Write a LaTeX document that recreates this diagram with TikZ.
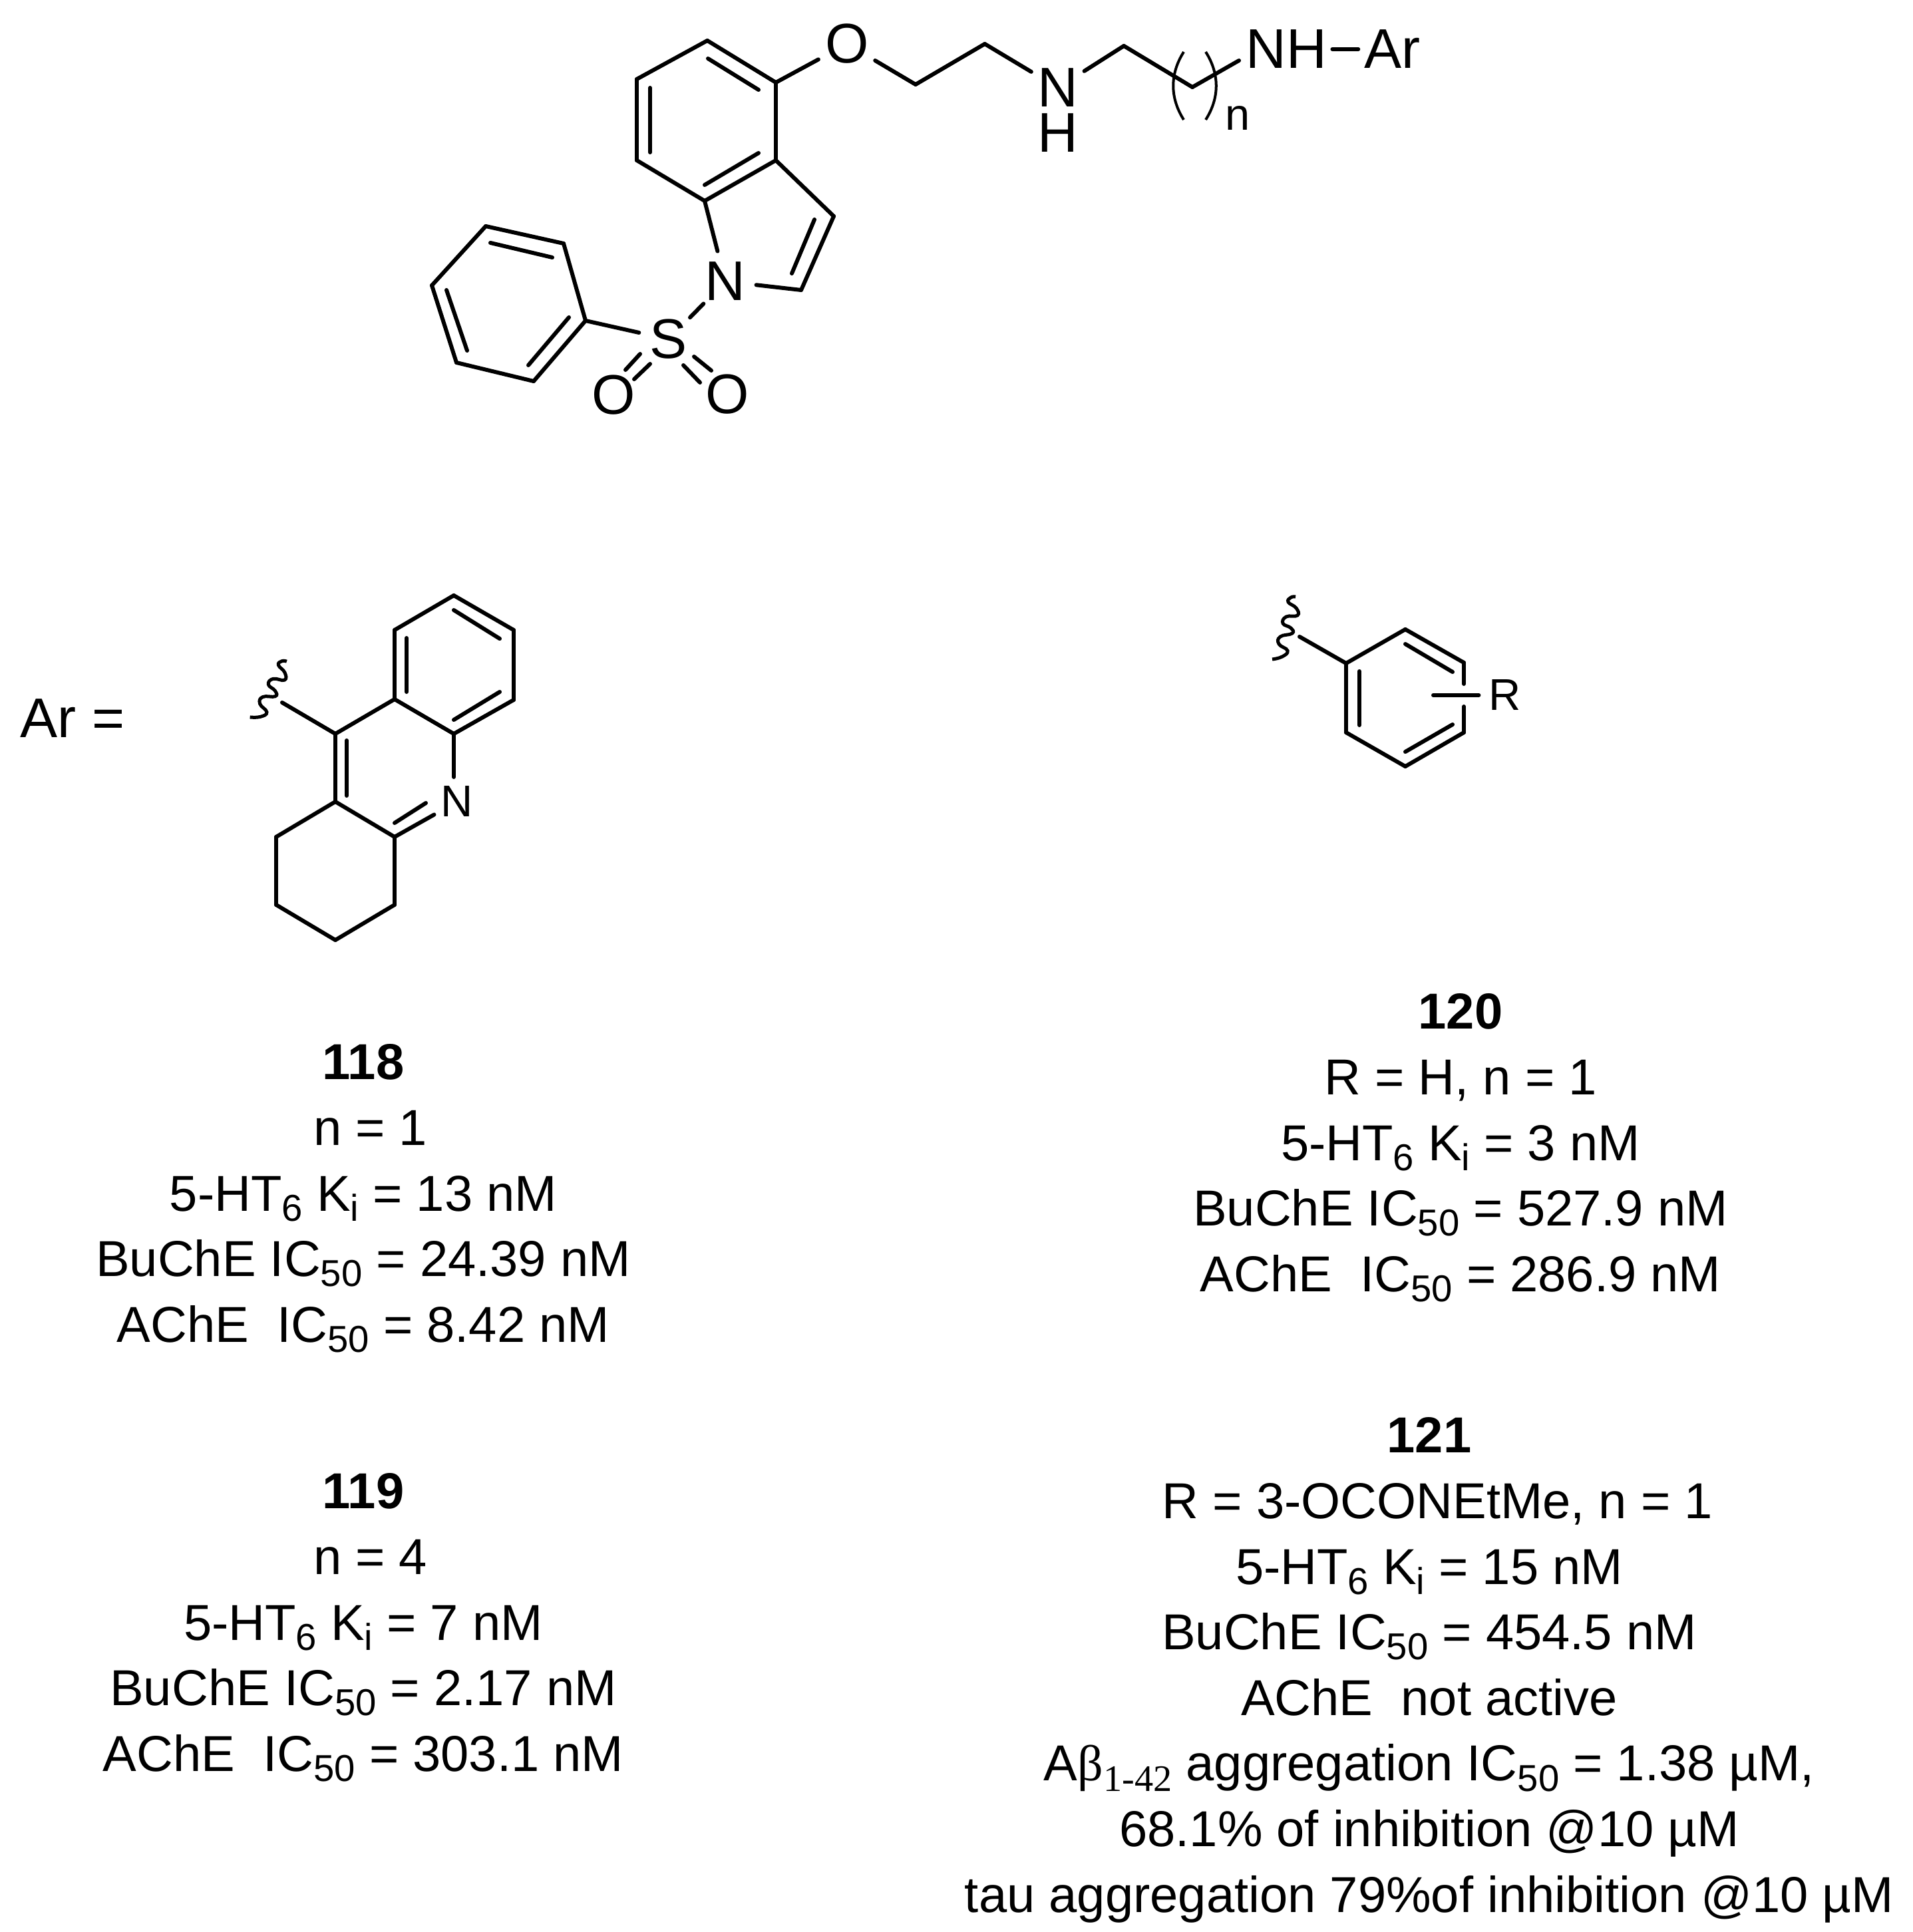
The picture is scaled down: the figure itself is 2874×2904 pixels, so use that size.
\documentclass[tikz,border=0pt]{standalone}
\usepackage{fontspec}
\setmainfont{Liberation Sans}
\newfontfamily\timesfont{Liberation Serif}
\newcommand{\lowidx}[1]{\raisebox{-0.2em}{\fontsize{16}{16}\selectfont #1}}
\tikzset{
  bond/.style={line width=0.06cm,line cap=round},
  atom/.style={circle,inner sep=0.03cm,font=\fontsize{23.9}{28}\selectfont},
  smallatom/.style={circle,inner sep=0.04cm,font=\fontsize{19}{23}\selectfont},
  wordatom/.style={rectangle,inner sep=0.08cm,font=\fontsize{23.9}{28}\selectfont},
  datablock/.style={anchor=north,inner sep=0pt,align=center,font=\fontsize{21.6}{28.05}\selectfont},
  pics/wavybond/.style={code={
    \draw[line width=0.05cm] plot[smooth,tension=0.8] coordinates {
      (-17,48) (-2,44) (6,35) (-7,25) (-5,14) (13,9) (11,1) (-1,-6) (4,-16) (21,-18) (19,-29) (7,-38) (11,-45) (18,-46)};
  }}
}
\begin{document}
\begin{tikzpicture}[x=0.01cm,y=-0.01cm]
      \useasboundingbox (0,0) rectangle (2874,2904);
      % indole and side chain
      \draw
        (1063,61) coordinate (i1)
        (1166,124) coordinate (i2)
        (1166,241) coordinate (i3)
        (1059,302) coordinate (i4)
        (957,241) coordinate (i5)
        (957,119) coordinate (i6)
        (1253,325) coordinate (i7)
        (1204,436) coordinate (i8)
        (1376,127) coordinate (c1)
        (1480,66) coordinate (c2)
        (1689,69) coordinate (c3)
        (1792,131) coordinate (c4)
        (1862,91) coordinate (c5)
        (1090,423) node[atom] (indn){N}
        (1273,66) node[atom] (oxy){O}
        (1590,132) node[atom] (amine){N}
        (1590,200) node[wordatom,inner sep=0pt] (amineh){H}
        (1933,74) node[wordatom] (nh){NH}
        (2092,74) node[wordatom] (ar){Ar}
        (1860,178) node[smallatom] (rep){n};
      % phenylsulfonyl
      \draw
        (880,482) coordinate (p1)
        (847,366) coordinate (p2)
        (730,340) coordinate (p3)
        (649,429) coordinate (p4)
        (686,545) coordinate (p5)
        (802,573) coordinate (p6)
        (1005,510) node[atom] (sulf){S}
        (922,594) node[atom] (oxl){O}
        (1093,593) node[atom] (oxr){O};
      % acridine part
      \draw
        (682,895) coordinate (a1)
        (772,947) coordinate (a2)
        (772,1052) coordinate (a3)
        (682,1103) coordinate (a4)
        (593,1051) coordinate (a5)
        (593,947) coordinate (a6)
        (504,1103) coordinate (a7)
        (504,1205) coordinate (a8)
        (593,1258) coordinate (a9)
        (415,1258) coordinate (a10)
        (415,1360) coordinate (a11)
        (504,1413) coordinate (a12)
        (593,1360) coordinate (a13)
        (424,1056) coordinate (a14)
        (682,1168) coordinate (a15)
        (687,1205) node[smallatom] (acrn){N};
      % substituted phenyl
      \draw
        (2112,946) coordinate (b1)
        (2200,996) coordinate (b2)
        (2200,1101) coordinate (b3)
        (2112,1152) coordinate (b4)
        (2023,1101) coordinate (b5)
        (2023,997) coordinate (b6)
        (1953,957) coordinate (b7)
        (2200,1028) coordinate (b8)
        (2200,1062) coordinate (b9)
        (2154,1045) coordinate (b10)
        (2262,1045) node[smallatom] (rgroup){R};
      \begin{scope}[bond]
        \draw (i1) to (i2);
        \draw (i2) to (i3);
        \draw (i3) to (i4);
        \draw (i4) to (i5);
        \draw (i5) to (i6);
        \draw (i6) to (i1);
        \draw (i3) to (i7);
        \draw (i7) to (i8);
        \draw (i8) to (indn);
        \draw (i4) to (indn);
        \draw (i2) to (oxy);
        \draw (oxy) to (c1);
        \draw (c1) to (c2);
        \draw (c2) to (amine);
        \draw (amine) to (c3);
        \draw (c3) to (c4);
        \draw (c4) to (c5);
        \draw (nh) to (ar);
        \draw (indn) to (sulf);
        \draw (sulf) to (p1);
        \draw (p1) to (p2);
        \draw (p2) to (p3);
        \draw (p3) to (p4);
        \draw (p4) to (p5);
        \draw (p5) to (p6);
        \draw (p6) to (p1);
        \draw (a1) to (a2);
        \draw (a2) to (a3);
        \draw (a3) to (a4);
        \draw (a4) to (a5);
        \draw (a5) to (a6);
        \draw (a6) to (a1);
        \draw (a5) to (a7);
        \draw (a7) to (a8);
        \draw (a8) to (a9);
        \draw (a9) to (acrn);
        \draw (a4) to (a15);
        \draw (a8) to (a10);
        \draw (a10) to (a11);
        \draw (a11) to (a12);
        \draw (a12) to (a13);
        \draw (a13) to (a9);
        \draw (a7) to (a14);
        \draw (b1) to (b2);
        \draw (b2) to (b8);
        \draw (b9) to (b3);
        \draw (b3) to (b4);
        \draw (b4) to (b5);
        \draw (b5) to (b6);
        \draw (b6) to (b1);
        \draw (b6) to (b7);
        \draw (b10) to (rgroup);
        % second lines of the double bonds
        \draw (1064,88) to (1140,135);
        \draw (977,132) to (977,229);
        \draw (1140,230) to (1059,278);
        \draw (1224,330) to (1190,411);
        \draw (737,365) to (830,387);
        \draw (671,436) to (702,527);
        \draw (855,477) to (794,549);
        \draw (977,547) to (953,570);
        \draw (962,532) to (940,556);
        \draw (1027,549) to (1052,575);
        \draw (1043,536) to (1069,557);
        \draw (682,917) to (751,960);
        \draw (611,959) to (611,1040);
        \draw (682,1082) to (751,1040);
        \draw (521,1113) to (521,1196);
        \draw (593,1237) to (640,1207);
        \draw (2112,968) to (2183,1010);
        \draw (2043,1009) to (2043,1090);
        \draw (2112,1130) to (2183,1089);
      \end{scope}
      % brackets round the repeat unit
      \draw[line width=0.04cm]
        (1779,78) .. controls +(-21,33) and +(-21,-33) .. (1779,180)
        (1812,78) .. controls +(21,33) and +(21,-33) .. (1812,180);
      \pic at (1929,943) {wavybond};
      \pic[rotate=-13] at (403,1035) {wavybond};
      \node[wordatom,inner sep=0pt] (arlabel) at (109,1080) {Ar =};
      \node[datablock] (block118) at (546,1569) {\textbf{118}\\\kern6pt n = 1\\5-HT\lowidx{6} K\lowidx{i} = 13 nM\\BuChE IC\lowidx{50} = 24.39 nM\\AChE\ \ IC\lowidx{50} = 8.42 nM};
      \node[datablock] (block119) at (546,2214) {\textbf{119}\\\kern6pt n = 4\\5-HT\lowidx{6} K\lowidx{i} = 7 nM\\BuChE IC\lowidx{50} = 2.17 nM\\AChE\ \ IC\lowidx{50} = 303.1 nM};
      \node[datablock] (block120) at (2195,1493) {\textbf{120}\\R = H, n = 1\\5-HT\lowidx{6} K\lowidx{i} = 3 nM\\BuChE IC\lowidx{50} = 527.9 nM\\AChE\ \ IC\lowidx{50} = 286.9 nM};
      \node[datablock] (block121) at (2148,2130) {\textbf{121}\\\kern7pt R = 3-OCONEtMe, n = 1\\5-HT\lowidx{6} K\lowidx{i} = 15 nM\\BuChE IC\lowidx{50} = 454.5 nM\\AChE\ \ not active\\A{\timesfont β}\lowidx{\timesfont 1-42} aggregation IC\lowidx{50} = 1.38 µM,\\68.1\% of inhibition @10 µM\\tau aggregation 79\%of inhibition @10 µM};
    \end{tikzpicture}
\end{document}
